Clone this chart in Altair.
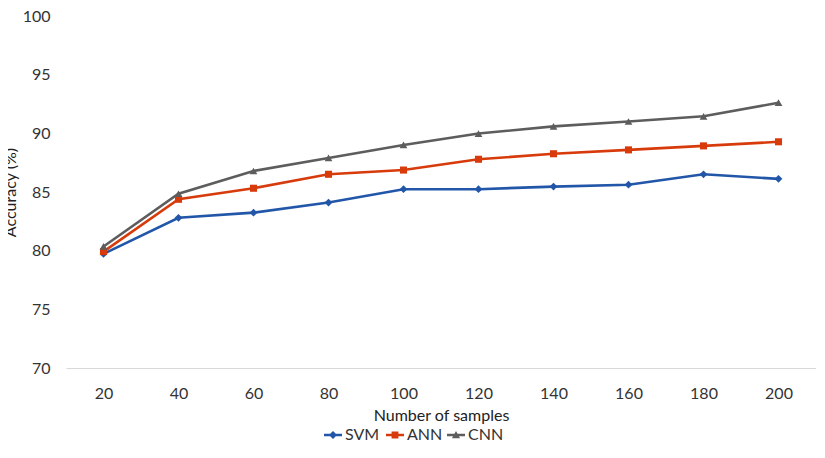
import altair as alt
import pandas as pd

samples = [20, 40, 60, 80, 100, 120, 140, 160, 180, 200]
series_names = ["SVM", "ANN", "CNN"]
svm = [79.72, 82.80, 83.24, 84.10, 85.24, 85.24, 85.46, 85.62, 86.51, 86.12]
ann = [79.92, 84.38, 85.32, 86.51, 86.87, 87.79, 88.26, 88.59, 88.93, 89.28]
cnn = [80.36, 84.85, 86.79, 87.90, 89.01, 89.98, 90.59, 91.01, 91.45, 92.61]
colors = ["#2256a8", "#d83b0b", "#5d5d5d"]
marker_shapes = ["diamond", "square", "triangle-up"]
marker_sizes = [60, 50, 60]
legend_paths = [
    "M-1,-0.14L1,-0.14L1,0.14L-1,0.14Z M0,-0.45L0.45,0L0,0.45L-0.45,0Z",
    "M-1,-0.14L1,-0.14L1,0.14L-1,0.14Z M-0.38,-0.38L0.38,-0.38L0.38,0.38L-0.38,0.38Z",
    "M-1,-0.14L1,-0.14L1,0.14L-1,0.14Z M0,-0.45L0.45,0.35L-0.45,0.35Z",
]
legend_x = [257, 319, 380]
y_ticks = [70, 75, 80, 85, 90, 95, 100]

rows = []
for name, vals in zip(series_names, [svm, ann, cnn]):
    for s, v in zip(samples, vals):
        rows.append({"samples": s, "accuracy": v, "series": name})
df = pd.DataFrame(rows)

FONT = "Lato"

x_enc = alt.X(
    "samples:O",
    scale=alt.Scale(type="point", padding=0.5),
    sort=samples,
    axis=alt.Axis(
        title="Number of samples",
        labelAngle=0,
        ticks=False,
        grid=False,
        domainColor="#d9d9d9",
        domainWidth=1,
        labelPadding=17,
        titlePadding=6,
    ),
)
y_enc = alt.Y(
    "accuracy:Q",
    scale=alt.Scale(domain=[70, 100], nice=False, zero=False),
    axis=alt.Axis(
        title="Accuracy (%)",
        values=y_ticks,
        ticks=False,
        grid=False,
        domain=False,
        labelPadding=16,
        titlePadding=4,
    ),
)

base = alt.Chart(df)

lines = base.mark_line(strokeWidth=2.6).encode(
    x=x_enc,
    y=y_enc,
    stroke=alt.Stroke("series:N", scale=alt.Scale(domain=series_names, range=colors), legend=None),
)

layers = [lines]
for name, col, shp, sz in zip(series_names, colors, marker_shapes, marker_sizes):
    pts = (
        base.transform_filter(alt.datum.series == name)
        .mark_point(filled=True, opacity=1, shape=shp, size=sz, color=col)
        .encode(x=x_enc, y=y_enc)
    )
    layers.append(pts)

# one single-entry legend per series, each from its own shape scale
for name, col, path, lx in zip(series_names, colors, legend_paths, legend_x):
    leg = (
        base.transform_filter(alt.datum.series == name)
        .mark_point(filled=True, opacity=0.01, color=col)
        .encode(
            x=x_enc,
            y=y_enc,
            shape=alt.Shape(
                "series:N",
                scale=alt.Scale(domain=[name], range=[path]),
                legend=alt.Legend(
                    title=None,
                    orient="none",
                    direction="horizontal",
                    legendX=lx,
                    legendY=409,
                    symbolSize=324,
                    symbolOpacity=1,
                    labelOffset=2,
                    labelFontSize=16,
                    labelFont=FONT,
                    labelColor="#333333",
                ),
            ),
        )
    )
    layers.append(leg)

chart = (
    alt.layer(*layers)
    .resolve_scale(shape="independent")
    .properties(
        width=750,
        height=352,
        autosize=alt.AutoSizeParams(type="none"),
        padding={"left": 58, "top": 8, "right": 0, "bottom": 76},
    )
    .configure_view(stroke=None)
    .configure_axis(
        labelFont=FONT,
        titleFont=FONT,
        labelFontSize=16,
        titleFontSize=16,
        labelColor="#333333",
        titleColor="#222222",
        titleFontWeight="normal",
    )
)

chart.save("out.html", embed_options={"renderer": "svg", "actions": False})
